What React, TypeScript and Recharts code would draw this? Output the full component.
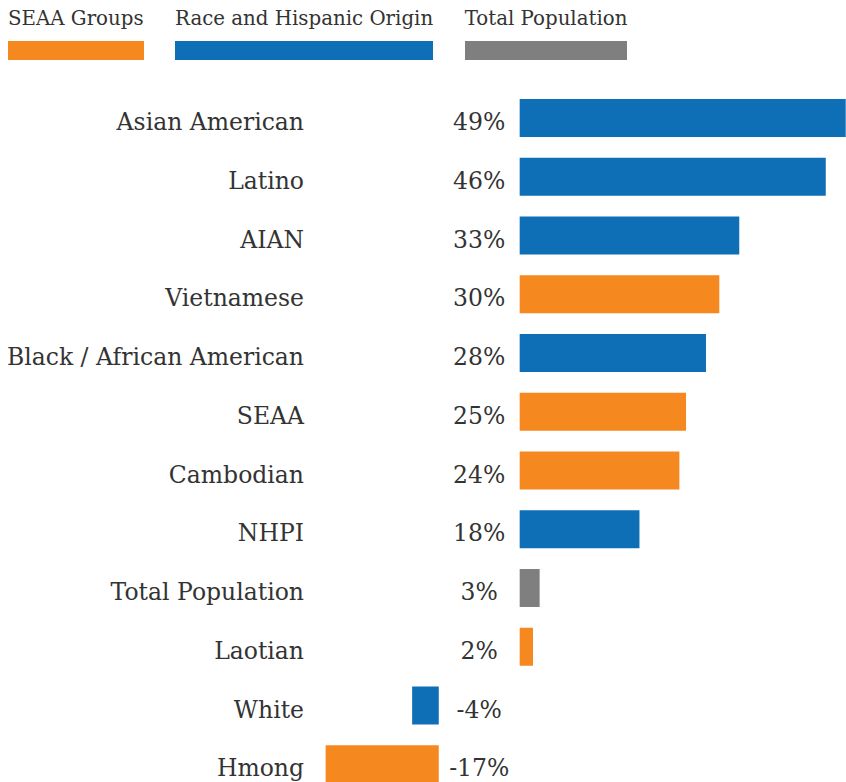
import React from 'react'
import { Bar, BarChart, Cell, LabelList, XAxis, YAxis } from 'recharts';

const categories = ['Asian American', 'Latino', 'AIAN', 'Vietnamese', 'Black / African American', 'SEAA', 'Cambodian', 'NHPI', 'Total Population', 'Laotian', 'White', 'Hmong'];
const values = [49, 46, 33, 30, 28, 25, 24, 18, 3, 2, -4, -17];
const groups = ['race', 'race', 'race', 'seaa', 'race', 'seaa', 'seaa', 'race', 'total', 'seaa', 'race', 'seaa'];

const legendItems = [
  { key: 'seaa', label: 'SEAA Groups' },
  { key: 'race', label: 'Race and Hispanic Origin' },
  { key: 'total', label: 'Total Population' },
];

const colors: Record<string, string> = { seaa: '#F5891F', race: '#0E6FB7', total: '#7F7F7F' };

// gap (in %) between negative bars and positive bars, where the value labels sit
const GAP = 12.16;
const FONT = "'DejaVu Serif', serif";
const TEXT = '#333';

const data = categories.map((name, i) => ({ name, value: values[i], group: groups[i] }));

const barRange = (d: any) => (d.value >= 0 ? [GAP, GAP + d.value] : [d.value, 0]);

const ValueLabel = (props: any) => {
  const { x, y, width, height, index } = props;
  const v = values[index];
  const k = Math.abs(width) / Math.abs(v);
  const cx = v >= 0 ? x - (GAP * k) / 2 : x + width + (GAP * k) / 2;
  return (
    <text x={cx} y={y + height / 2} dy={12} textAnchor="middle" fontSize={23.5} fontFamily={FONT} fill={TEXT}>
      {v}%
    </text>
  );
};

export default function App() {
  return (
    <div style={{ position: 'fixed', top: 0, left: 0, width: 846, height: 782, overflow: 'hidden', background: '#fff' }}>
      <div style={{ position: 'absolute', top: 9, left: 8, display: 'flex', gap: 31.5, fontFamily: FONT, fontSize: 19.8, lineHeight: '20px', color: TEXT }}>
        {legendItems.map((it) => (
          <div key={it.key}>
            <div style={{ whiteSpace: 'nowrap' }}>{it.label}</div>
            <div style={{ marginTop: 12, height: 19, background: colors[it.key] }} />
          </div>
        ))}
      </div>
      <div style={{ position: 'absolute', top: 0, left: 0 }}>
        <BarChart layout="vertical" width={846} height={794} data={data} margin={{ top: 89, right: 0, bottom: 0, left: 0 }}>
          <XAxis type="number" hide domain={[-19.2, 61.2]} allowDataOverflow />
          <YAxis
            type="category"
            dataKey="name"
            width={311}
            axisLine={false}
            tickLine={false}
            tickSize={0}
            tickMargin={7}
            interval={0}
            tick={{ fontSize: 23.5, fill: TEXT, fontFamily: FONT, dy: 3.5 }}
          />
          <Bar dataKey={barRange} barSize={38} isAnimationActive={false}>
            {data.map((d) => (
              <Cell key={d.name} fill={colors[d.group]} />
            ))}
            <LabelList content={ValueLabel} />
          </Bar>
        </BarChart>
      </div>
    </div>
  )
}
